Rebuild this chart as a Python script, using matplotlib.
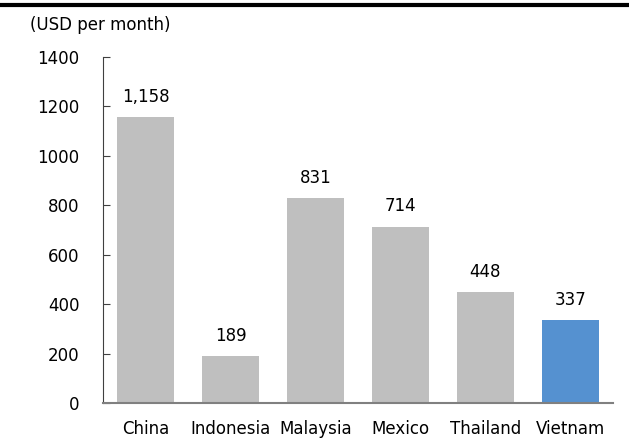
import matplotlib
matplotlib.use("Agg")
import matplotlib.pyplot as plt
from matplotlib.lines import Line2D

countries = ["China", "Indonesia", "Malaysia", "Mexico", "Thailand", "Vietnam"]
wages = [1158, 189, 831, 714, 448, 337]
yticks = [0, 200, 400, 600, 800, 1000, 1200, 1400]

grey = "#BFBFBF"
blue = "#5591D0"
colors = [grey] * 5 + [blue]

plt.rcParams["font.family"] = ["DejaVu Sans"]

fig = plt.figure(figsize=(6.29, 4.41), dpi=100)
ax = fig.add_axes([103 / 629, 38 / 441, 510 / 629, 346 / 441])

x = list(range(len(countries)))
ax.bar(x, wages, width=0.66, color=colors, zorder=2)
for xi, v in zip(x, wages):
    ax.text(xi, v + 45, f"{v:,}", ha="center", va="bottom", fontsize=12, color="#000000")

ax.set_xlim(-0.5, len(countries) - 0.5)
ax.set_ylim(0, 1400)
ax.set_yticks(yticks)
ax.set_yticklabels([str(t) for t in yticks], fontsize=12)
ax.set_xticks(x)
ax.set_xticklabels(countries, fontsize=12)

for s in ["top", "right"]:
    ax.spines[s].set_visible(False)
ax.spines["left"].set_color("#404040")
ax.spines["left"].set_linewidth(0.8)
ax.spines["bottom"].set_color("#808080")
ax.spines["bottom"].set_linewidth(1.5)
ax.tick_params(axis="y", direction="in", length=5, color="#404040", pad=17)
ax.tick_params(axis="x", length=0, pad=12)

fig.text(30 / 629, 1 - 25 / 441, "(USD per month)", fontsize=12, va="center", ha="left")
fig.add_artist(Line2D([0, 1], [1 - 5 / 441, 1 - 5 / 441], color="black", linewidth=3, transform=fig.transFigure))

fig.savefig("out.png", dpi=100)
